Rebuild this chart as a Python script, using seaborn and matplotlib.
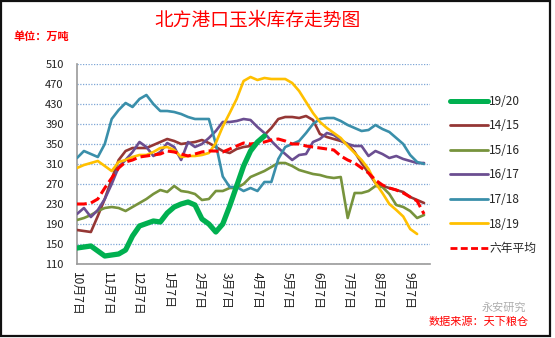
import matplotlib
matplotlib.use("Agg")
import matplotlib.pyplot as plt
from matplotlib.patches import Rectangle
from matplotlib.lines import Line2D
import seaborn as sns
import numpy as np
import pandas as pd

sns.set_theme(style="white")
plt.rcParams['font.family'] = ['Noto Sans CJK SC', 'DejaVu Sans']
plt.rcParams['axes.unicode_minus'] = False

# ---------------- data (weekly, day offset from 10月7日) ----------------
s1920 = [142, 144, 146, 136, 126, 128, 130, 138, 166, 186, 191, 196, 194, 212, 224,
         230, 234, 228, 200, 190, 174, 190, 226, 266, 306, 336, 354, 366]
s1415 = [178, 176, 174, 206, 240, 280, 318, 336, 342, 342, 342, 348, 354, 360, 356,
         350, 352, 354, 358, 352, 344, 336, 332, 340, 344, 346, 352, 368, 382, 400,
         404, 404, 402, 406, 398, 370, 364, 360, 356, 350, 334, 312, 292, 272, 266,
         262, 258, 254, 244, 238, 232]
s1516 = [198, 202, 208, 216, 222, 224, 222, 216, 224, 232, 240, 250, 258, 254, 266,
         256, 254, 250, 238, 240, 256, 256, 262, 262, 270, 284, 290, 296, 304, 312,
         312, 306, 298, 294, 290, 288, 284, 282, 284, 202, 252, 252, 256, 266, 264,
         250, 228, 224, 216, 202, 208]
s1617 = [210, 222, 204, 218, 240, 270, 304, 318, 334, 354, 344, 326, 334, 352, 344,
         318, 354, 344, 350, 362, 376, 394, 394, 396, 400, 398, 384, 372, 356, 342,
         330, 318, 328, 330, 354, 360, 372, 368, 358, 350, 346, 346, 326, 336, 330,
         322, 326, 320, 316, 312, 312]
s1718 = [322, 336, 330, 324, 350, 400, 418, 432, 424, 440, 448, 430, 416, 416, 414,
         410, 404, 400, 400, 400, 350, 285, 264, 264, 256, 262, 256, 274, 274, 320,
         344, 350, 356, 372, 390, 400, 402, 402, 396, 388, 382, 376, 378, 388, 380,
         374, 362, 350, 328, 314, 310]
s1819 = [302, 308, 312, 316, 306, 296, 314, 318, 324, 328, 328, 334, 342, 344, 338,
         324, 326, 326, 328, 332, 352, 385, 412, 440, 476, 484, 478, 482, 480, 480,
         480, 472, 456, 434, 412, 394, 382, 372, 362, 346, 332, 318, 300, 272, 252,
         230, 218, 205, 180, 170]
avg6 = [230, 230, 232, 240, 262, 282, 302, 314, 318, 324, 326, 328, 330, 336, 334,
        330, 326, 330, 334, 336, 336, 334, 340, 346, 352, 350, 352, 354, 358, 360,
        356, 350, 350, 346, 344, 342, 340, 338, 326, 318, 312, 302, 292, 278, 268,
        262, 258, 252, 244, 236, 210]

tick_days = [0, 31, 61, 92, 123, 151, 182, 212, 243, 273, 304, 335]
tick_labels = ["10月7日", "11月7日", "12月7日", "1月7日", "2月7日", "3月7日",
               "4月7日", "5月7日", "6月7日", "7月7日", "8月7日", "9月7日"]
y_ticks = [110, 150, 190, 230, 270, 310, 350, 390, 430, 470, 510]

series = [
    ("14/15", s1415, "#953735", 1.9, "-"),
    ("15/16", s1516, "#77933C", 1.9, "-"),
    ("16/17", s1617, "#6B4E91", 1.9, "-"),
    ("17/18", s1718, "#3A8FAA", 1.9, "-"),
    ("18/19", s1819, "#FFC000", 1.9, "-"),
    ("六年平均", avg6, "#FF0000", 2.2, "--"),
    ("19/20", s1920, "#00B050", 3.8, "-"),
]

fig = plt.figure(figsize=(5.55, 3.38), dpi=100)
ax = fig.add_axes([77 / 555, 1 - 264 / 338, (430 - 77) / 555, 200 / 338])

for z, (name, vals, col, lw, ls) in enumerate(series):
    df = pd.DataFrame({"day": np.arange(len(vals)) * 7, "v": vals})
    sns.lineplot(data=df, x="day", y="v", ax=ax, color=col, linewidth=lw,
                 linestyle=ls, zorder=3 + z, legend=False)
    if ls == "--":
        ax.lines[-1].set_dashes([3.2, 1.4])

ax.set_xlim(0, 356)
ax.set_ylim(110, 510)
ax.set_yticks(y_ticks)
ax.set_yticklabels([str(t) for t in y_ticks], fontsize=8, color="#222222")
ax.set_xticks(tick_days)
ax.set_xticklabels(tick_labels, rotation=-90, fontsize=8.6, color="#222222",
                   va="top", ha="center")
ax.set_xlabel("")
ax.set_ylabel("")
ax.grid(axis="y", color="#7FA6D6", linestyle=(0, (1, 1.2)), linewidth=0.9)
ax.grid(axis="x", visible=False)
for sp in ["top", "right"]:
    ax.spines[sp].set_visible(False)
for sp in ["left", "bottom"]:
    ax.spines[sp].set_color("#9A9A9A")
    ax.spines[sp].set_linewidth(1.2)
ax.tick_params(axis="both", which="both", direction="out", length=3.5,
               color="#9A9A9A", width=1, pad=2)
ax.tick_params(axis="y", pad=6)

# legend
order = ["19/20", "14/15", "15/16", "16/17", "17/18", "18/19", "六年平均"]
info = {n: (c, lw, ls) for n, v, c, lw, ls in series}
handles = []
for n in order:
    c, lw, ls = info[n]
    h = Line2D([0], [0], color=c, linewidth=(3.6 if n == "19/20" else 2.0),
               linestyle=ls)
    if ls == "--":
        h.set_dashes([2.5, 1.2])
    handles.append(h)
fig.legend(handles, order, loc="upper left", bbox_to_anchor=(445 / 555, 1 - 90 / 338),
           frameon=False, fontsize=8.5, handlelength=3.2, handletextpad=0.15,
           labelspacing=0.98, borderaxespad=0)

# texts
fig.text(258 / 555, 1 - 20 / 338, "北方港口玉米库存走势图", color="#FF0000",
         fontsize=13.5, ha="center", va="center")
fig.text(13 / 555, 1 - 36 / 338, "单位：万吨", color="#FF0000", fontsize=8,
         ha="left", va="center", fontweight="bold")
fig.text(529 / 555, 1 - 322 / 338, "数据来源：天下粮仓", color="#FF0000", fontsize=8,
         ha="right", va="center")
fig.text(526 / 555, 1 - 308 / 338, "永安研究", color="#9A9A9A", fontsize=8,
         ha="right", va="center", alpha=0.8)

# outer frame
fig.patches.append(Rectangle((1 / 555, 2 / 338), 549 / 555, 335 / 338,
                             transform=fig.transFigure, fill=False,
                             edgecolor="#111111", linewidth=1.6))

fig.savefig("out.png", dpi=100)
